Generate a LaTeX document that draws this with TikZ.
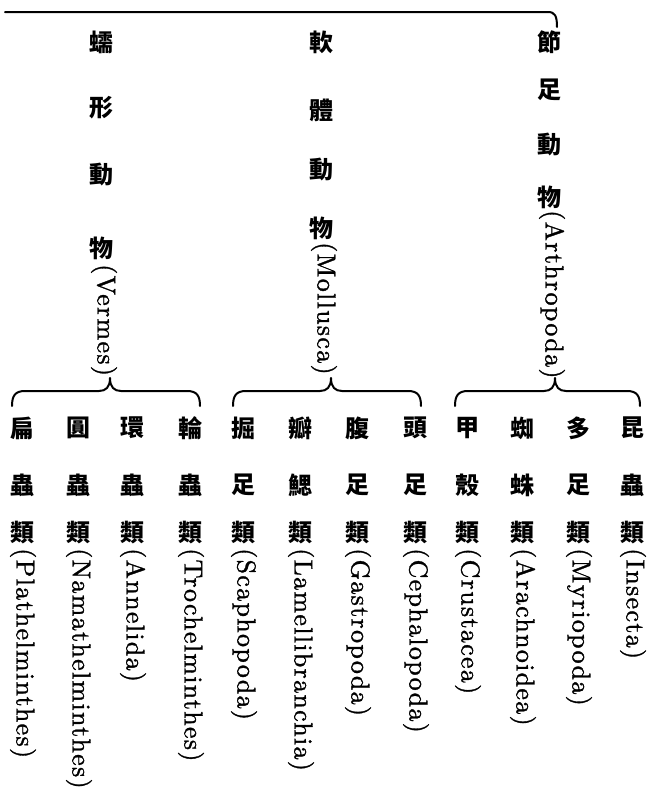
\documentclass[tikz,border=0pt]{standalone}
\usepackage{fontspec}
\newfontfamily\cjk{Noto Sans CJK TC}
\newfontfamily\latfont{lmroman10-regular.otf}[LetterSpace=5,FakeBold=1.2]
\tikzset{
  x=1pt, y=1pt,
  ch/.style={inner sep=0pt, font=\cjk\bfseries\fontsize{24}{24}\selectfont},
  lat/.style={inner sep=0pt, rotate=-90, anchor=west,
    font=\latfont\fontsize{26}{26}\selectfont},
  bline/.style={line width=2pt, line cap=round, line join=round},
}
\begin{document}
\begin{tikzpicture}
\useasboundingbox (0,0) rectangle (648,-793);
% top line
\coordinate (tl) at (5,-12);
\coordinate (tr) at (557,-27);
\draw[bline] (tl) -- (548,-12) .. controls (555,-12) and (557,-16) .. (tr);
% top groups
\node[ch] (v1) at (101,-42) {蠕};
\node[ch] (v2) at (101,-108) {形};
\node[ch] (v3) at (101,-175) {動};
\node[ch] (v4) at (101,-248) {物};
\node[lat] (v5) at (104,-264) {(Vermes)};
\node[ch] (m1) at (321,-42) {軟};
\node[ch] (m2) at (321,-110) {體};
\node[ch] (m3) at (321,-170) {動};
\node[ch] (m4) at (321,-228) {物};
\node[lat] (m5) at (324,-242) {(Mollusca)};
\node[ch] (a1) at (549,-42) {節};
\node[ch] (a2) at (549,-90) {足};
\node[ch] (a3) at (549,-145) {動};
\node[ch] (a4) at (549,-197) {物};
\node[lat] (a5) at (552,-210) {(Arthropoda)};
% braces
\foreach \n/\l/\t/\r in {b1/12/110/200, b2/233/331/421, b3/455/555/640}{
  \coordinate (\n l) at (\l,-406);
  \coordinate (\n t) at (\t,-378);
  \coordinate (\n r) at (\r,-406);
  \draw[bline] (\n l) .. controls (\l,-396) and (\l+3,-391) .. (\l+13,-391)
    -- (\t-11,-391) .. controls (\t-4,-391) and (\t,-387) .. (\n t)
    .. controls (\t,-387) and (\t+4,-391) .. (\t+11,-391)
    -- (\r-13,-391) .. controls (\r-3,-391) and (\r,-396) .. (\n r);
}
% bottom columns
\foreach \n/\x/\a/\b/\lt in {
  p1/22/扁/蟲/Plathelminthes, p2/78/圓/蟲/Namathelminthes,
  p3/132/環/蟲/Annelida, p4/190/輪/蟲/Trochelminthes,
  q1/243/掘/足/Scaphopoda, q2/300/瓣/鰓/Lamellibranchia,
  q3/357/腹/足/Gastropoda, q4/415/頭/足/Cephalopoda,
  r1/467/甲/殼/Crustacea, r2/522/蜘/蛛/Arachnoidea,
  r3/578/多/足/Myriopoda, r4/632/昆/蟲/Insecta}{
  \node[ch] (\n a) at (\x,-428) {\a};
  \node[ch] (\n b) at (\x,-485) {\b};
  \node[ch] (\n c) at (\x,-533) {類};
  \node[lat] (\n d) at (\x+1,-548) {(\lt)};
}
\end{tikzpicture}
\end{document}
